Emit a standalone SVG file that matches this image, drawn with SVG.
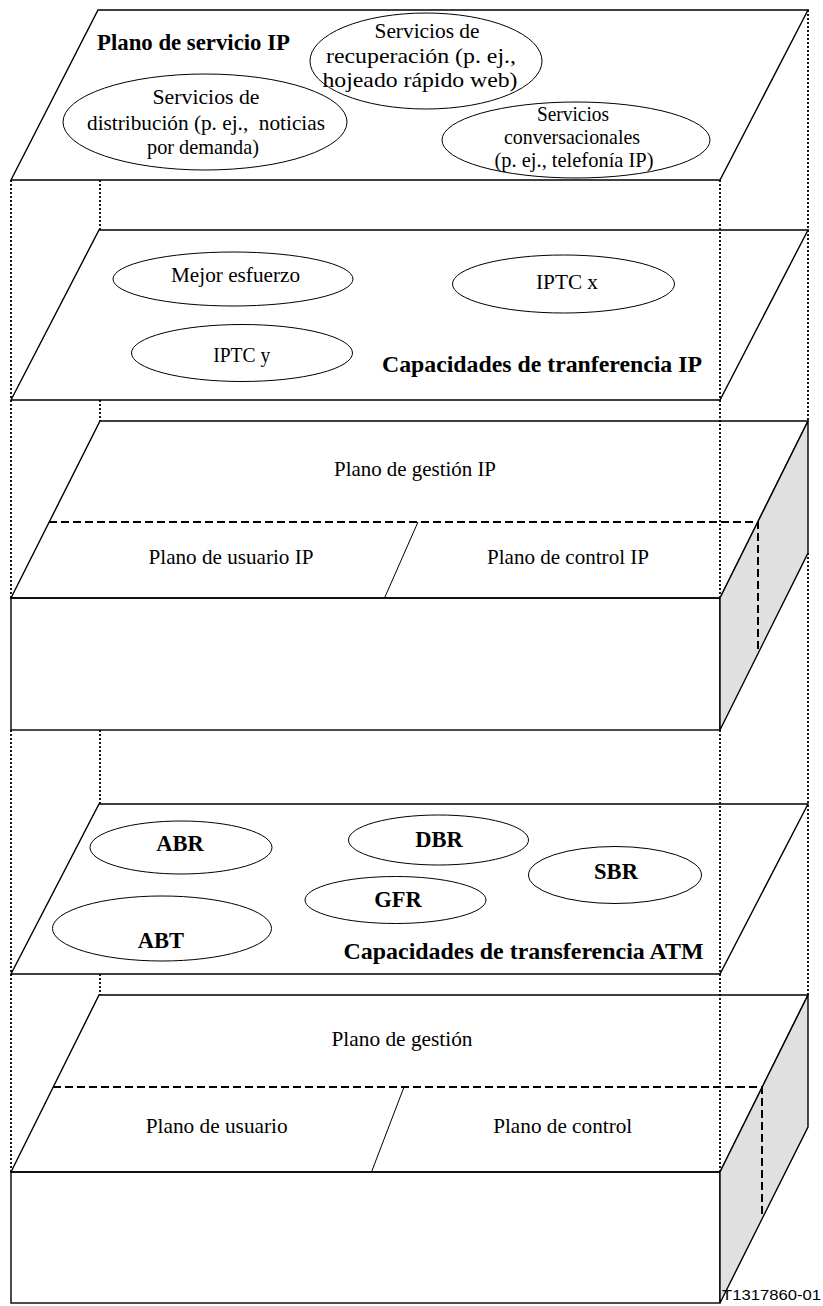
<svg xmlns="http://www.w3.org/2000/svg" width="823" height="1306" viewBox="0 0 823 1306" font-family="'Liberation Serif', 'Times New Roman', serif">
<style>
.pl{fill:#fff;stroke:#000;stroke-width:1.4;stroke-linejoin:miter}
.el{fill:none;stroke:#000;stroke-width:1}
.side{fill:#e0e0e0;stroke:#000;stroke-width:1.4}
.div{stroke:#000;stroke-width:1;fill:none}
.dash{stroke:#000;stroke-width:2;stroke-dasharray:8 4;fill:none}
.dot{stroke:#000;stroke-width:1.8;stroke-dasharray:2 2;fill:none}
text{font-family:"Liberation Serif","Times New Roman",serif;font-size:21px;fill:#000}
.t{text-anchor:middle}
.b{font-weight:bold;font-size:22.5px}
.fig{font-family:"Liberation Sans",Arial,sans-serif;font-size:15px}
</style>
<rect width="823" height="1306" fill="#fff"/>

<g id="connectors">
<line class="dot" x1="11" y1="180" x2="11" y2="598"/>
<line class="dot" x1="11" y1="730" x2="11" y2="1172"/>
<line class="dot" x1="100" y1="180" x2="100" y2="230"/>
<line class="dot" x1="100" y1="400" x2="100" y2="421"/>
<line class="dot" x1="100" y1="730" x2="100" y2="804"/>
<line class="dot" x1="100" y1="974" x2="100" y2="995"/>
<line class="dot" x1="720" y1="180" x2="720" y2="598"/>
<line class="dot" x1="720" y1="730" x2="720" y2="1172"/>
<line class="dot" x1="808" y1="10" x2="808" y2="421"/>
<line class="dot" x1="808" y1="553" x2="808" y2="995"/>
</g>

<g id="plano-servicio-ip">
<polygon class="pl" points="98,10 808,10 720,180 11,180" fill-opacity="0"/>
<text class="b" x="97" y="50" textLength="193" lengthAdjust="spacingAndGlyphs">Plano de servicio IP</text>
</g>
<g id="servicios-recuperacion">
<ellipse class="el" cx="426" cy="61" rx="116" ry="48"/>
<text class="t" x="427" y="38" textLength="105" lengthAdjust="spacingAndGlyphs">Servicios de</text>
<text class="t" x="421" y="63" textLength="190" lengthAdjust="spacingAndGlyphs">recuperación (p. ej.,</text>
<text class="t" x="420" y="87" textLength="195" lengthAdjust="spacingAndGlyphs">hojeado rápido web)</text>
</g>
<g id="servicios-distribucion">
<ellipse class="el" cx="205" cy="122" rx="142" ry="48"/>
<text class="t" x="206" y="104" textLength="107" lengthAdjust="spacingAndGlyphs">Servicios de</text>
<text class="t" x="206" y="129.5" textLength="238" lengthAdjust="spacingAndGlyphs" xml:space="preserve">distribución (p. ej.,  noticias</text>
<text class="t" x="203" y="154" textLength="112" lengthAdjust="spacingAndGlyphs">por demanda)</text>
</g>
<g id="servicios-conversacionales">
<ellipse class="el" cx="576" cy="140" rx="134" ry="38"/>
<text class="t" x="573" y="120.5" textLength="72" lengthAdjust="spacingAndGlyphs">Servicios</text>
<text class="t" x="572" y="144" textLength="136" lengthAdjust="spacingAndGlyphs">conversacionales</text>
<text class="t" x="574" y="166.5" textLength="159" lengthAdjust="spacingAndGlyphs">(p. ej., telefonía IP)</text>
</g>

<g id="capacidades-ip">
<polygon class="pl" points="99,230 808,230 720,400 11,400" fill-opacity="0"/>
<text class="b" x="382" y="371.5" textLength="320" lengthAdjust="spacingAndGlyphs">Capacidades de tranferencia IP</text>
</g>
<g id="mejor-esfuerzo">
<ellipse class="el" cx="233" cy="279" rx="120" ry="27"/>
<text class="t" x="235.5" y="282" textLength="129" lengthAdjust="spacingAndGlyphs">Mejor esfuerzo</text>
</g>
<g id="iptc-x">
<ellipse class="el" cx="563.5" cy="284" rx="111" ry="29"/>
<text class="t" x="567" y="288.5" textLength="62" lengthAdjust="spacingAndGlyphs">IPTC x</text>
</g>
<g id="iptc-y">
<ellipse class="el" cx="242" cy="353" rx="110.5" ry="28.5"/>
<text class="t" x="241.7" y="362" textLength="57" lengthAdjust="spacingAndGlyphs">IPTC y</text>
</g>

<g id="bloque-ip">
<polygon class="pl" points="100,421 808,421 720,598 11,598" fill-opacity="0"/>
<rect class="pl" x="11" y="598" width="709" height="132" fill-opacity="0"/>
<polygon class="side" points="720,598 808,421 808,553 720,730"/>
<polyline class="dash" points="49,522 758,522 758,651"/>
<line class="div" x1="418" y1="522" x2="384.5" y2="598"/>
<text class="t" x="415" y="475.5" textLength="162" lengthAdjust="spacingAndGlyphs">Plano de gestión IP</text>
<text class="t" x="231" y="564" textLength="165" lengthAdjust="spacingAndGlyphs">Plano de usuario IP</text>
<text class="t" x="568" y="563.5" textLength="162" lengthAdjust="spacingAndGlyphs">Plano de control IP</text>
</g>

<g id="capacidades-atm">
<polygon class="pl" points="99,804 808,804 720,974 11,974" fill-opacity="0"/>
<text class="b" x="343.5" y="959" textLength="360" lengthAdjust="spacingAndGlyphs">Capacidades de transferencia ATM</text>
</g>
<g id="abr">
<ellipse class="el" cx="181" cy="847.5" rx="91" ry="26.5"/>
<text class="t b" x="180" y="851">ABR</text>
</g>
<g id="dbr">
<ellipse class="el" cx="438.5" cy="840" rx="90" ry="25"/>
<text class="t b" x="439" y="846.5">DBR</text>
</g>
<g id="gfr">
<ellipse class="el" cx="395.5" cy="900" rx="90.5" ry="23.5"/>
<text class="t b" x="398" y="906.5">GFR</text>
</g>
<g id="sbr">
<ellipse class="el" cx="615" cy="875" rx="86.5" ry="28.5"/>
<text class="t b" x="616" y="878.5">SBR</text>
</g>
<g id="abt">
<ellipse class="el" cx="162" cy="928.5" rx="109.5" ry="32.5"/>
<text class="t b" x="161" y="947.5">ABT</text>
</g>

<g id="bloque-atm">
<polygon class="pl" points="99,995 808,995 720,1172 11,1172" fill-opacity="0"/>
<rect class="pl" x="11" y="1172" width="709" height="131" fill-opacity="0"/>
<polygon class="side" points="720,1172 808,995 808,1127 720,1303"/>
<polyline class="dash" points="53,1087 762,1087 762,1218"/>
<line class="div" x1="404" y1="1087" x2="371.5" y2="1172"/>
<text class="t" x="402" y="1045.5" textLength="141" lengthAdjust="spacingAndGlyphs">Plano de gestión</text>
<text class="t" x="216.7" y="1132.5" textLength="142" lengthAdjust="spacingAndGlyphs">Plano de usuario</text>
<text class="t" x="562.7" y="1132.5" textLength="139" lengthAdjust="spacingAndGlyphs">Plano de control</text>
</g>

<g id="figure-id">
<text class="fig" x="722" y="1300" textLength="99" lengthAdjust="spacingAndGlyphs">T1317860-01</text>
</g>
</svg>
